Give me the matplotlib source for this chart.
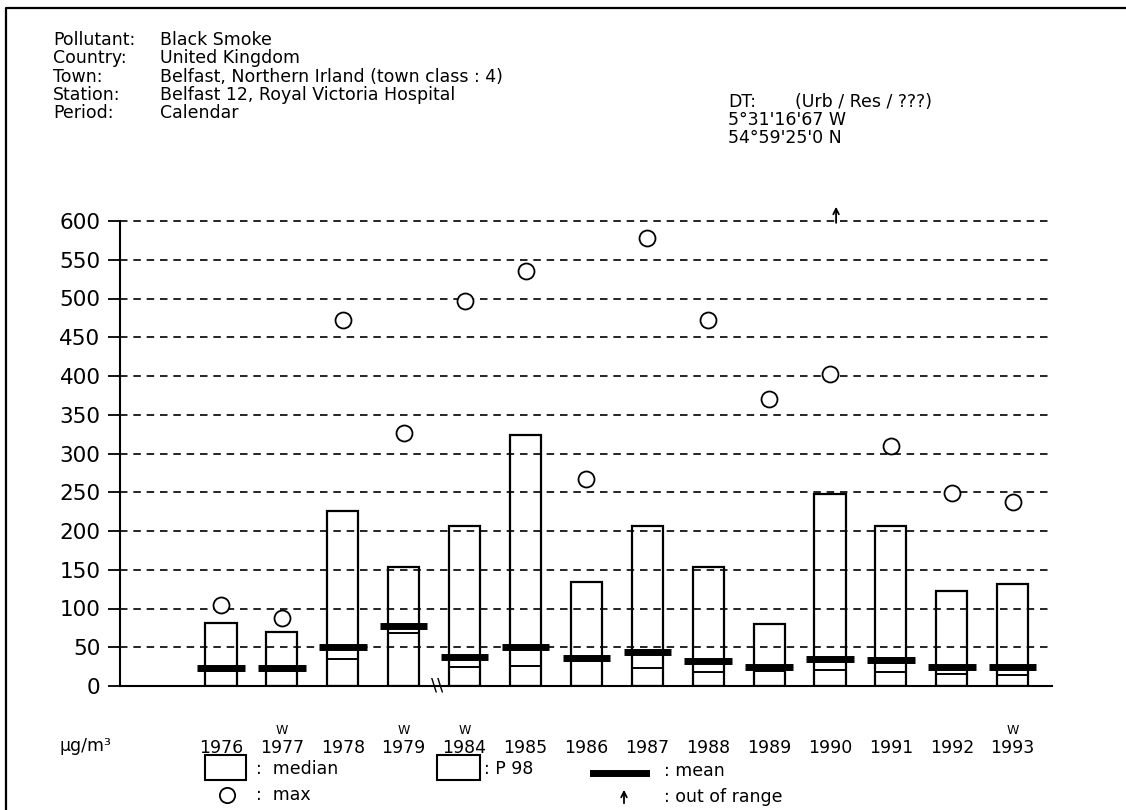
import matplotlib
matplotlib.use('Agg')
import matplotlib.pyplot as plt
import matplotlib.transforms as mtrans
from matplotlib.patches import Rectangle, FancyArrowPatch
from matplotlib.lines import Line2D
import numpy as np

# data (ug/m3)
years = ['1976', '1977', '1978', '1979', '1984', '1985', '1986',
         '1987', '1988', '1989', '1990', '1991', '1992', '1993']
p98 = [81, 70, 226, 153, 206, 324, 134, 206, 153, 80, 248, 206, 123, 132]
median = [20, 20, 35, 69, 24, 26, 32, 23, 18, 19, 21, 18, 15, 14]
mean = [23, 23, 50, 77, 38, 50, 36, 44, 32, 24, 35, 33, 24, 24]
max_val = [105, 88, 472, 327, 497, 536, 267, 578, 472, 370, 403, 310, 249, 238]
flags = ['', 'W', '', 'W', 'W', '', '', '', '', '', '', '', '', 'W']
out_of_range = [False] * 10 + [True] + [False] * 3

header_labels = ['Pollutant:', 'Country:', 'Town:', 'Station:', 'Period:']
header_values = ['Black Smoke', 'United Kingdom',
                 'Belfast, Northern Irland (town class : 4)',
                 'Belfast 12, Royal Victoria Hospital', 'Calendar']
site_lines = ['5°31\'16\'67 W', '54°59\'25\'0 N']

W, H = 1126, 810
plt.rcParams['font.family'] = ['DejaVu Sans']


def fx(px):
    return px / W


def fy(py):
    return 1 - py / H


fig = plt.figure(figsize=(W / 100, H / 100), dpi=100)
ax_right = 1052
ax = fig.add_axes([fx(120), fy(686), fx(ax_right) - fx(120), fy(221) - fy(686)])

x = np.arange(len(years))
step = 60.9
ax.set_xlim(-(221 - 120) / step, (ax_right - 221) / step)
ax.set_ylim(0, 600)

# grid + axes
ax.set_yticks(range(0, 601, 50))
ax.yaxis.grid(True, linestyle=(0, (4.5, 3.5)), color='black', lw=1.2)
for gl in ax.yaxis.get_gridlines():
    gl.set_clip_on(False)
ax.set_axisbelow(True)
ax.tick_params(axis='y', direction='out', length=9, width=1.3, pad=5,
               labelsize=15.5)
ax.set_xticks([])
for s in ['top', 'right']:
    ax.spines[s].set_visible(False)
ax.spines['left'].set_linewidth(1.5)
ax.spines['bottom'].set_linewidth(1.5)

# boxes: P98 and median, mean as thick bar
ax.bar(x, p98, width=0.51, fill=False, edgecolor='black', lw=1.6, zorder=2)
ax.bar(x, median, width=0.51, fill=False, edgecolor='black', lw=1.4, zorder=2)
ax.hlines(mean, x - 0.39, x + 0.39, color='black', lw=5, zorder=3)
ax.plot(x, max_val, 'o', mfc='white', mec='black', ms=11.5, mew=1.3,
        zorder=4, clip_on=False)

for i, flag in enumerate(out_of_range):
    if flag:
        ax.annotate('', xy=(i + 0.1, 622), xytext=(i + 0.1, 594),
                    arrowprops=dict(arrowstyle='->', lw=1.3, color='black'),
                    annotation_clip=False)

# axis break between 1979 and 1984
ax.text(3.55, 0, '\\\\', fontsize=13, ha='center', va='center', clip_on=False)

# year labels and W flags below axis
tr = mtrans.blended_transform_factory(ax.transData, fig.transFigure)
for i, yr in enumerate(years):
    ax.text(i, fy(748), yr, transform=tr, ha='center', va='center', fontsize=12.5)
    if flags[i]:
        ax.text(i, fy(731), flags[i], transform=tr, ha='center', va='center',
                fontsize=9)
fig.text(fx(60), fy(746), 'µg/m³', ha='left', va='center', fontsize=12.5)

# header block
hs = 12.5
for k, (lab, val) in enumerate(zip(header_labels, header_values)):
    yy = 40 + k * 18.3
    fig.text(fx(53), fy(yy), lab, ha='left', va='center', fontsize=hs)
    fig.text(fx(160), fy(yy), val, ha='left', va='center', fontsize=hs)
fig.text(fx(728), fy(102), 'DT:', ha='left', va='center', fontsize=hs)
fig.text(fx(795), fy(102), '(Urb / Res / ???)', ha='left', va='center', fontsize=hs)
for k, line in enumerate(site_lines):
    fig.text(fx(728), fy(120 + k * 18), line, ha='left', va='center', fontsize=hs)

# legend drawn by hand
fig.add_artist(Rectangle((fx(205), fy(780)), fx(246) - fx(205), fy(755) - fy(780),
                         transform=fig.transFigure, fill=False, lw=1.5))
fig.text(fx(256), fy(769), ':  median', ha='left', va='center', fontsize=hs)
fig.add_artist(Rectangle((fx(437), fy(780)), fx(480) - fx(437), fy(755) - fy(780),
                         transform=fig.transFigure, fill=False, lw=1.5))
fig.text(fx(484), fy(769), ': P 98', ha='left', va='center', fontsize=hs)
fig.add_artist(Line2D([fx(593), fx(646)], [fy(773), fy(773)],
                      transform=fig.transFigure, color='black', lw=5))
fig.text(fx(664), fy(771), ': mean', ha='left', va='center', fontsize=hs)
fig.add_artist(Line2D([fx(227)], [fy(795)], transform=fig.transFigure,
                      marker='o', mfc='white', mec='black', ms=11, mew=1.3))
fig.text(fx(256), fy(795), ':  max', ha='left', va='center', fontsize=hs)
fig.add_artist(FancyArrowPatch((fx(624), fy(806)), (fx(624), fy(787)),
                               transform=fig.transFigure, arrowstyle='->',
                               mutation_scale=10, lw=1.3, color='black'))
fig.text(fx(664), fy(797), ': out of range', ha='left', va='center', fontsize=hs)

# outer frame (left and top edges visible)
fig.add_artist(Line2D([fx(6), fx(6), fx(W)], [0, fy(8), fy(8)],
                      transform=fig.transFigure, color='black', lw=1.6))

fig.savefig('out.png', dpi=100)
